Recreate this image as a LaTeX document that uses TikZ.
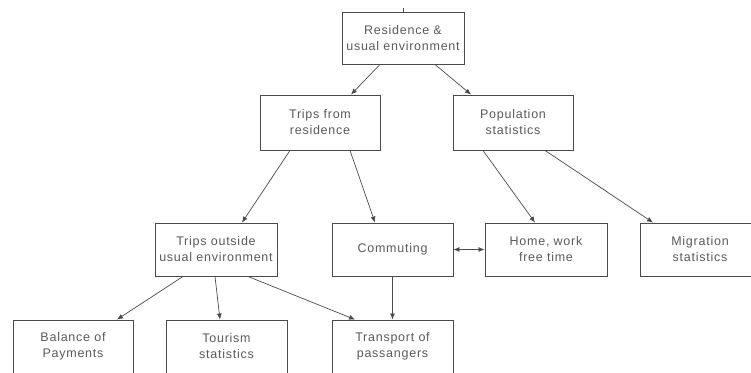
\documentclass[tikz,border=0pt]{standalone}
\usepackage{fontspec}
\setmainfont{Liberation Sans}
\newfontfamily\fontecaixa[LetterSpace=6]{Liberation Sans}
\usetikzlibrary{arrows.meta}
\definecolor{cinzatexto}{HTML}{5A5A5A}
\definecolor{cinzalinha}{HTML}{4A4A4A}
\begin{document}
\begin{tikzpicture}[
    x=1pt, y=-1pt,
    % caixas do diagrama
    caixa/.style={
        draw=cinzalinha,
        line width=0.9pt,
        fill=white,
        text=cinzatexto,
        font=\fontecaixa\fontsize{12.5}{16}\selectfont,
        minimum width=121pt,
        minimum height=53pt,
        inner sep=0pt,
        align=center
    },
    linha/.style={draw=cinzalinha, line width=0.7pt, -{Latex[length=6pt,width=5pt]}}
]
\useasboundingbox (0,0) rectangle (751,372);
\clip (0,0) rectangle (751,372);

% ---- NIVEL 0 ----
\node[caixa, minimum width=122pt, minimum height=52pt] (resid) at (403, 38)
    {Residence \&\\usual environment};
\coordinate (topo) at (403, 8);
\draw[cinzalinha, line width=0.7pt] (topo) -- (resid.north);

% ---- NIVEL 1 ----
\node[caixa, minimum width=120pt, minimum height=55pt] (viagens) at (320, 122.5)
    {Trips from\\residence};
\node[caixa, minimum width=120pt, minimum height=55pt] (popul) at (513, 122.5)
    {Population\\statistics};

\draw[linha] ([xshift=-23pt]resid.south) -- ([xshift=31pt]viagens.north);
\draw[linha] ([xshift=32pt]resid.south) -- ([xshift=-42pt]popul.north);

% ---- NIVEL 2 ----
\node[caixa, minimum width=122pt] (fora) at (216, 249.5)
    {Trips outside\\usual environment};
\node[caixa] (comut) at (392.5, 249.5) {Commuting};
\node[caixa, minimum width=122pt] (casa) at (546, 249.5)
    {Home, work\\free time};
\node[caixa, minimum width=120pt] (migr) at (700, 249.5)
    {Migration\\statistics};

\draw[linha] ([xshift=-30pt]viagens.south) -- ([xshift=26pt]fora.north);
\draw[linha] ([xshift=30pt]viagens.south) -- ([xshift=-17.5pt]comut.north);
\draw[linha] ([xshift=-30pt]popul.south) -- ([xshift=-11pt]casa.north);
\draw[linha] ([xshift=32pt]popul.south) -- ([xshift=-47pt]migr.north);
\draw[linha, {Latex[length=6pt,width=5pt]}-{Latex[length=6pt,width=5pt]}] (comut.east) -- (casa.west);

% ---- NIVEL 3 ----
\node[caixa, minimum width=120pt] (balanca) at (73, 346.5)
    {Balance of\\Payments};
\node[caixa] (turismo) at (226.5, 346.5)
    {Tourism\\statistics};
\node[caixa] (transp) at (392.5, 346.5)
    {Transport of\\passangers};

\draw[linha] ([xshift=-33pt]fora.south) -- ([xshift=44pt]balanca.north);
\draw[linha] ([xshift=-1pt]fora.south) -- ([xshift=-6.5pt]turismo.north);
\draw[linha] ([xshift=32pt]fora.south) -- ([xshift=-37.5pt]transp.north);
\draw[linha] (comut.south) -- (transp.north);

\end{tikzpicture}
\end{document}
